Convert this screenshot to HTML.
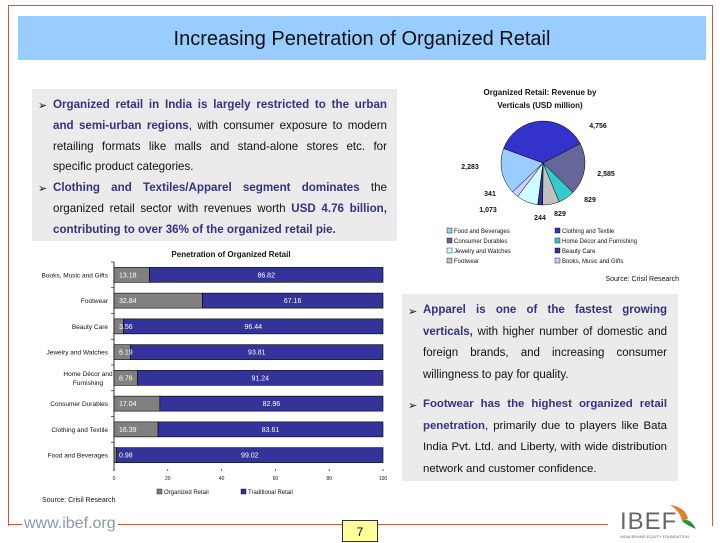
<!DOCTYPE html>
<html><head><meta charset="utf-8"><style>
body{margin:0;width:720px;height:540px;background:#fff;position:relative;overflow:hidden;font-family:"Liberation Sans",Arial,sans-serif}
.abs{position:absolute}
.box{background:#ebebeb}
.p{position:absolute;font-size:11.6px;line-height:20.8px;text-align:justify;color:#111}
.p b{color:#333380}
.arr{position:absolute;font-size:11px;color:#111}
.j{text-align:justify;text-align-last:justify}
</style></head><body>
<div class="abs" style="left:8px;top:5px;width:703px;height:520px;border:1px solid #c0603a;border-bottom:none"></div>
<div class="abs" style="left:18px;top:16px;width:688px;height:44px;background:#99ccff"></div>
<div class="abs" style="left:18px;top:28px;width:688px;text-align:center;font-size:20px;color:#111">Increasing Penetration of Organized Retail</div>

<div class="abs box" style="left:32px;top:89px;width:365px;height:152px"></div>
<div class="arr" style="left:38px;top:99px">➢</div>
<div class="p" style="left:53px;top:95px;width:334px"><b>Organized retail in India is largely restricted to the urban and semi-urban regions</b>, with consumer exposure to modern retailing formats like malls and stand-alone stores etc. for specific product categories.</div>
<div class="arr" style="left:38px;top:182px">➢</div>
<div class="p" style="left:53px;top:178px;width:334px"><b>Clothing and Textiles/Apparel segment dominates</b> the organized retail sector with revenues worth <b>USD 4.76 billion, contributing to over 36% of the organized retail pie.</b></div>

<div class="abs box" style="left:402px;top:294px;width:276px;height:187px"></div>
<div class="arr" style="left:408px;top:305px">➢</div>
<div class="p" style="left:423px;top:300px;width:244px;line-height:21.5px;font-size:11.5px"><div class="j"><b>Apparel is one of the fastest growing</b></div><b>verticals,</b> with higher number of domestic and foreign brands, and increasing consumer willingness to pay for quality.</div>
<div class="arr" style="left:408px;top:399px">➢</div>
<div class="p" style="left:423px;top:394px;width:244px;line-height:21.5px;font-size:11.4px"><b>Footwear has the highest organized retail penetration</b>, primarily due to players like Bata India Pvt. Ltd. and Liberty, with wide distribution network and customer confidence.</div>

<svg class="abs" style="left:0;top:0" width="720" height="540">
<g id="bar"></g>
<g id="pie"></g>
</svg>

<div class="abs" style="left:8px;top:524px;width:600px;height:1px;background:#c0603a"></div>
<div class="abs" style="left:22px;top:515px;font-size:16px;color:#8a9aa8;background:#fff;padding:0 2px">www.ibef.org</div>
<div class="abs" style="left:342px;top:520px;width:34px;height:20px;background:#ffff99;border:1px solid #333;font-size:12px;text-align:center;line-height:22px">7</div>
<div class="abs" style="left:620px;top:508px;font-size:24px;color:#666;letter-spacing:1px;background:#fff">IBEF</div>
<svg class="abs" style="left:668px;top:503px" width="30" height="28"><path d="M2 2 Q18 4 20 16 L14 18 Q12 8 2 2Z" fill="#e08030"/><path d="M14 18 Q22 14 28 26 Q18 22 14 18Z" fill="#2a9040"/></svg>
<div class="abs" style="left:620px;top:534px;font-size:4px;color:#666">INDIA BRAND EQUITY FOUNDATION</div>

<script>
const NS='http://www.w3.org/2000/svg';
function mk(p,t,a,txt){const e=document.createElementNS(NS,t);for(const k in a)e.setAttribute(k,a[k]);if(txt!=null)e.textContent=txt;p.appendChild(e);return e;}
// ---- bar chart data
const barCategories=['Books, Music and Gifts','Footwear','Beauty Care','Jewelry and Watches','Home Décor and Furnishing','Consumer Durables','Clothing and Textile','Food and Beverages'];
const organizedValues=[13.18,32.84,3.56,6.19,8.76,17.04,16.39,0.98];
const traditionalValues=[86.82,67.16,96.44,93.81,91.24,82.96,83.61,99.02];
const xTicks=[0,20,40,60,80,100];
const bar=document.getElementById('bar');
const x0=114,x1=383,yTop=262,yBot=468;
const xs=v=>x0+(x1-x0)*v/100;
const band=(yBot-yTop)/barCategories.length;
const yc=i=>yTop+band*(i+0.5);
let t=mk(bar,'text',{x:231,y:257,'font-size':8,'font-weight':'bold','text-anchor':'middle',fill:'#111'},'Penetration of Organized Retail');


let ax=mk(bar,'line',{x1:x0,x2:x0,y1:yTop,y2:yBot+3,stroke:'#000','stroke-width':0.8});


barCategories.forEach((c,i)=>{
  const y=yc(i),h=15;
  const r1=mk(bar,'rect',{x:xs(0),y:y-h/2,width:xs(organizedValues[i])-xs(0),height:h,fill:'#808080',stroke:'#000','stroke-width':0.6});
  
  
  const r2=mk(bar,'rect',{x:xs(organizedValues[i]),y:y-h/2,width:xs(organizedValues[i]+traditionalValues[i])-xs(organizedValues[i]),height:h,fill:'#333399',stroke:'#000','stroke-width':0.6});
  
  
  const l1=mk(bar,'text',{x:xs(0)+5,y:y+2.5,'font-size':7,fill:'#fff'},organizedValues[i].toFixed(2));
  
  
  const l2=mk(bar,'text',{x:(xs(organizedValues[i])+xs(100))/2,y:y+2.5,'font-size':7,fill:'#fff','text-anchor':'middle'},traditionalValues[i].toFixed(2));
  
  
  const words=c==='Home Décor and Furnishing'?['Home Décor and','Furnishing']:[c];
  words.forEach((w,k)=>{
    const lt=mk(bar,'text',{x:108,y:y+2.5+(k-(words.length-1)/2)*9,'font-size':6.5,'text-anchor':words.length>1?'middle':'end',fill:'#111'},w);
    if(words.length>1)lt.setAttribute('x',88);
    
    
  });
  mk(bar,'line',{x1:x0-3,x2:x0,y1:yTop+band*i,y2:yTop+band*i,stroke:'#000','stroke-width':0.6});
});
xTicks.forEach(v=>{
  const tl=mk(bar,'text',{x:xs(v),y:480,'font-size':5,'text-anchor':'middle',fill:'#111'},String(v));
  
  
  mk(bar,'line',{x1:xs(v),x2:xs(v),y1:yBot+1,y2:yBot+3,stroke:'#000','stroke-width':0.6});
});
[[157,'#808080','Organized Retail'],[241,'#333399','Traditional Retail']].forEach(([x,col,s])=>{
  const lr=mk(bar,'rect',{x:x,y:489,width:5,height:5,fill:col,stroke:'#000','stroke-width':0.4});
  
  
  const lt=mk(bar,'text',{x:x+7,y:494,'font-size':6,fill:'#111'},s);
  
  
});
t=mk(bar,'text',{x:42,y:502,'font-size':7,fill:'#111'},'Source: Crisil Research');



// ---- pie chart data
const pieCategories=['Clothing and Textile','Consumer Durables','Home Décor and Furnishing','Footwear','Beauty Care','Jewelry and Watches','Books, Music and Gifts','Food and Beverages'];
const pieValues=[4756,2585,829,829,244,1073,341,2283];
const pieLabels=['4,756','2,585','829','829','244','1,073','341','2,283'];
const pieColors=['#3333cc','#666699','#33cccc','#c0c0c0','#333399','#ccffff','#ccccff','#99ccff'];
const pie=document.getElementById('pie');
const cx=543,cy=163,R=42;
t=mk(pie,'text',{x:540,y:95,'font-size':8,'font-weight':'bold','text-anchor':'middle',fill:'#111'},'Organized Retail: Revenue by');


t=mk(pie,'text',{x:540,y:108,'font-size':8,'font-weight':'bold','text-anchor':'middle',fill:'#111'},'Verticals (USD million)');


const total=pieValues.reduce((a,b)=>a+b,0);
let ang=-1.22;
const labelPos=[[598,128],[606,176],[590,202],[560,216],[540,220],[488,212],[490,196],[470,169]];
pieValues.forEach((v,i)=>{
  const sw=v/total*Math.PI*2,a2=ang+sw;
  const p1=[cx+R*Math.sin(ang),cy-R*Math.cos(ang)],p2=[cx+R*Math.sin(a2),cy-R*Math.cos(a2)];
  const s=mk(pie,'path',{d:`M${cx},${cy}L${p1[0]},${p1[1]}A${R},${R} 0 ${sw>Math.PI?1:0} 1 ${p2[0]},${p2[1]}Z`,fill:pieColors[i],stroke:'#000','stroke-width':0.5});
  
  
  const l=mk(pie,'text',{x:labelPos[i][0],y:labelPos[i][1],'font-size':7,'font-weight':'bold','text-anchor':'middle',fill:'#111'},pieLabels[i]);
  
  
  ang=a2;
});
const legOrder=[7,0,1,2,5,4,3,6];
legOrder.forEach((idx,k)=>{
  const col=k%2,row=Math.floor(k/2);
  const x=447+col*108,y=233+row*10;
  const r=mk(pie,'rect',{x:x,y:y-5,width:5,height:5,fill:pieColors[idx],stroke:'#000','stroke-width':0.4});
  
  
  const lt=mk(pie,'text',{x:x+7,y:y,'font-size':6,fill:'#111'},pieCategories[idx]);
  
  
});
t=mk(pie,'text',{x:679,y:281,'font-size':7,'text-anchor':'end',fill:'#111'},'Source: Crisil Research');


</script>
</body></html>
